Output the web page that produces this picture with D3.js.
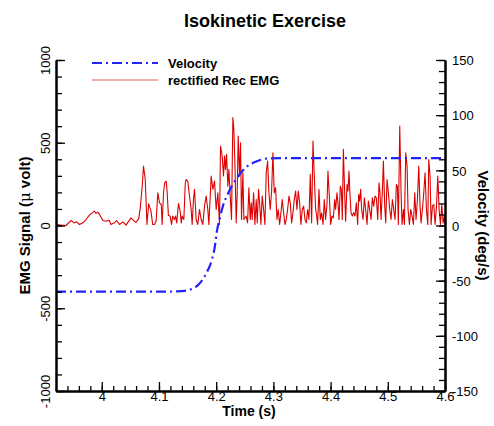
<!DOCTYPE html>
<html>
<head>
<meta charset="utf-8">
<script src="https://cdn.jsdelivr.net/npm/d3@7"></script>
<style>
  html, body { margin: 0; padding: 0; background: #fff; }
  svg { display: block; font-family: "Liberation Sans", Arial, sans-serif; }
</style>
</head>
<body>
<svg id="chart" width="494" height="426"></svg>
<script>
// Time axis (s)
const xTicks = [4, 4.1, 4.2, 4.3, 4.4, 4.5, 4.6];
const xMinorTicks = d3.range(3.92, 4.6001, 0.02).map(v => +v.toFixed(2));
// EMG axis (µV)
const emgTicks = [-1000, -500, 0, 500, 1000];
const emgMinorTicks = d3.range(-1000, 1001, 100);
// Velocity axis (deg/s)
const velTicks = [-150, -100, -50, 0, 50, 100, 150];
const velMinorTicks = d3.range(-150, 151, 10);

// Velocity profile of the isokinetic movement
const velTime  = [3.92, 4.10, 4.13, 4.145, 4.155, 4.165, 4.175, 4.185, 4.192, 4.198, 4.201, 4.206, 4.212, 4.2207, 4.235, 4.2527, 4.270, 4.2877, 4.31, 4.35, 4.6];
const velValue = [-60, -60, -59.7, -59.2, -58, -55.5, -50, -41, -32, -18, -6, 6, 18, 29, 42, 53, 58, 60.6, 61, 61, 61];

// Rectified rectus EMG
const emgTime = [
  3.9200, 3.9290, 3.9375, 3.9460, 3.9520, 3.9560, 3.9610, 3.9670, 3.9725, 3.9780,
  3.9870, 3.9900, 3.9930, 3.9960, 4.0020, 4.0075, 4.0130, 4.0160, 4.0220, 4.0260,
  4.0310, 4.0370, 4.0425, 4.0510, 4.0570, 4.0600, 4.0645, 4.0670, 4.0705, 4.0730,
  4.0760, 4.0790, 4.0820, 4.0860, 4.0890, 4.0920, 4.0950, 4.0980, 4.1010, 4.1040,
  4.1055, 4.1080, 4.1100, 4.1125, 4.1140, 4.1165, 4.1195, 4.1220, 4.1240, 4.1270,
  4.1290, 4.1310, 4.1340, 4.1370, 4.1390, 4.1405, 4.1435, 4.1460,
  4.1475, 4.1504, 4.1533, 4.1563, 4.1580, 4.1603, 4.1621, 4.1650, 4.1679, 4.1708,
  4.1738, 4.1767, 4.1796, 4.1825, 4.1854, 4.1872, 4.1913, 4.1942, 4.1971, 4.2000,
  4.2029, 4.2058, 4.2076, 4.2105, 4.2128, 4.2146, 4.2163, 4.2181, 4.2204, 4.2222,
  4.2245, 4.2268, 4.2292, 4.2309, 4.2327, 4.2350, 4.2368, 4.2385, 4.2408, 4.2426,
  4.2443, 4.2467, 4.2484, 4.2525, 4.2549, 4.2572, 4.2595, 4.2613, 4.2630, 4.2654,
  4.2677, 4.2700, 4.2718, 4.2741, 4.2759, 4.2782, 4.2805, 4.2829, 4.2852, 4.2875,
  4.2899, 4.2922, 4.2945, 4.2969, 4.2992, 4.3015, 4.3039, 4.3062, 4.3085, 4.3109,
  4.3132, 4.3155, 4.3179, 4.3202, 4.3225, 4.3249, 4.3272, 4.3295, 4.3319, 4.3342,
  4.3365, 4.3389, 4.3412, 4.3435, 4.3459, 4.3482, 4.3505, 4.3529, 4.3552, 4.3575,
  4.3599, 4.3622, 4.3645, 4.3669, 4.3692, 4.3715, 4.3739,
  4.3750, 4.3773, 4.3797, 4.3820, 4.3843, 4.3867, 4.3890, 4.3913, 4.3937, 4.3954,
  4.3978, 4.4001, 4.4024, 4.4048, 4.4071, 4.4088, 4.4112, 4.4129, 4.4147, 4.4170,
  4.4188, 4.4205, 4.4223, 4.4246, 4.4263, 4.4287, 4.4304, 4.4322, 4.4339, 4.4357,
  4.4380, 4.4403, 4.4427, 4.4450, 4.4473, 4.4491, 4.4508, 4.4526, 4.4543, 4.4567,
  4.4590, 4.4613, 4.4637, 4.4660, 4.4683, 4.4707, 4.4730, 4.4753, 4.4777, 4.4800,
  4.4824, 4.4847, 4.4864, 4.4882, 4.4905, 4.4923, 4.4946, 4.4964, 4.4987, 4.5010,
  4.5034, 4.5057, 4.5080, 4.5104, 4.5127, 4.5150, 4.5168, 4.5185, 4.5209, 4.5232,
  4.5249, 4.5273, 4.5290, 4.5314, 4.5337, 4.5354, 4.5378, 4.5401, 4.5424, 4.5448,
  4.5471, 4.5494, 4.5518, 4.5541, 4.5564, 4.5582, 4.5605, 4.5629, 4.5652, 4.5675,
  4.5699, 4.5716, 4.5739, 4.5757, 4.5780, 4.5804, 4.5827, 4.5850, 4.5874, 4.5897,
  4.5920, 4.5944, 4.5967, 4.5990, 4.6000
];
const emgValue = [
  6, 2, 0, 30, 16, 22, 6, 16, 36, 61,
  87, 73, 81, 67, 30, 26, 32, 6, 16, 30,
  6, 22, 2, 46, 26, 20, 40, 97, 228, 359,
  278, 6, 131, 87, 6, 6, 26, 198, 137, 127,
  6, 198, 258, 268, 218, 61, 57, 6, 57, 36,
  57, 16, 133, 87, 16, 57, 36, 258,
  278, 268, 178, 97, 6, 157, 218, 36, 6, 97,
  36, 6, 117, 178, 97, 6, 299, 218, 268, 97,
  198, 6, 480, 420, 299, 420, 339, 430, 238, 339,
  178, 36, 652, 581, 379, 16, 198, 541, 299, 500,
  36, 319, 36, 57, 16, 228, 36, 137, 36, 198,
  6, 157, 16, 218, 137, 6, 178, 97, 6, 319,
  389, 198, 97, 208, 440, 198, 228, 36, 97, 6,
  77, 157, 77, 6, 36, 97, 178, 137, 16, 77,
  157, 208, 97, 208, 137, 6, 97, 117, 36, 16,
  97, 36, 309, 16, 510, 299, 97,
  77, 6, 218, 36, 77, 6, 157, 36, 127, 329,
  178, 6, 57, 46, 157, 97, 198, 137, 36, 238,
  218, 36, 460, 198, 26, 248, 208, 329, 188, 77,
  57, 77, 57, 137, 6, 188, 147, 218, 97, 36,
  167, 97, 6, 147, 97, 36, 167, 117, 178, 167,
  36, 258, 198, 36, 208, 389, 117, 16, 278, 198,
  97, 36, 157, 97, 36, 248, 238, 6, 601, 198,
  6, 97, 6, 440, 359, 97, 6, 97, 57, 6,
  198, 36, 157, 359, 117, 16, 97, 198, 319, 97,
  6, 399, 299, 6, 117, 127, 6, 107, 299, 97,
  6, 127, 16, 57, 6
];

const svg = d3.select("#chart");
const plotLeft = 56, plotRight = 445, plotTop = 60, plotBottom = 391;

const x = d3.scaleLinear().domain([3.92, 4.6]).range([plotLeft, plotRight]);
const yEmg = d3.scaleLinear().domain([-1000, 1000]).range([plotBottom, plotTop]);
const yVel = d3.scaleLinear().domain([-150, 150]).range([plotBottom, plotTop]);

// plain hyphen-minus for negative tick labels
const intLabel = d => String(d);

// Plot area clip
svg.append("clipPath").attr("id", "plotClip")
  .append("rect").attr("x", plotLeft).attr("y", plotTop - 2)
  .attr("width", plotRight - plotLeft).attr("height", plotBottom - plotTop + 2);

// EMG trace
const emgLine = d3.line()
  .x((d, i) => x(emgTime[i]))
  .y(d => yEmg(d));
svg.append("path")
  .attr("clip-path", "url(#plotClip)")
  .attr("d", emgLine(emgValue))
  .attr("fill", "none")
  .attr("stroke", "#dd0000")
  .attr("stroke-width", 1.1)
  .attr("stroke-linejoin", "round");

// Velocity trace (dash-dot)
const velLine = d3.line()
  .x((d, i) => x(velTime[i]))
  .y(d => yVel(d))
  .curve(d3.curveMonotoneX);
svg.append("path")
  .attr("clip-path", "url(#plotClip)")
  .attr("d", velLine(velValue))
  .attr("fill", "none")
  .attr("stroke", "#2222ff")
  .attr("stroke-width", 2.2)
  .attr("stroke-dasharray", "10,4,2,4");

// Axes: ticks point into the plot
function styleAxis(g) {
  g.select(".domain").attr("stroke", "#000").attr("stroke-width", 2);
  g.selectAll(".tick line").attr("stroke", "#000").attr("stroke-width", 1.3);
  g.selectAll("text").attr("fill", "#000").style("font-size", "13px")
    .style("font-family", "'Liberation Sans', Arial, sans-serif");
}

// bottom
svg.append("g").attr("transform", `translate(0,${plotBottom})`)
  .call(d3.axisBottom(x).tickValues(xMinorTicks).tickSize(-5).tickFormat("").tickSizeOuter(0))
  .call(styleAxis);
svg.append("g").attr("transform", `translate(0,${plotBottom})`)
  .call(d3.axisBottom(x).tickValues(xTicks).tickSize(-9).tickFormat(d3.format(".1~f")).tickSizeOuter(0))
  .call(styleAxis)
  .call(g => g.selectAll("text").attr("dy", null).attr("y", 9.5));

// left
svg.append("g").attr("transform", `translate(${plotLeft},0)`)
  .call(d3.axisLeft(yEmg).tickValues(emgMinorTicks).tickSize(-6).tickFormat("").tickSizeOuter(0))
  .call(styleAxis);
svg.append("g").attr("transform", `translate(${plotLeft},0)`)
  .call(d3.axisLeft(yEmg).tickValues(emgTicks).tickSize(-9).tickFormat(intLabel).tickSizeOuter(0))
  .call(styleAxis)
  .call(g => g.selectAll("text")
    .attr("x", null).attr("dy", null)
    .attr("text-anchor", "middle")
    .attr("transform", "translate(-6,0) rotate(-90)"));

// right
svg.append("g").attr("transform", `translate(${plotRight},0)`)
  .call(d3.axisRight(yVel).tickValues(velMinorTicks).tickSize(-6).tickFormat("").tickSizeOuter(0))
  .call(styleAxis);
svg.append("g").attr("transform", `translate(${plotRight},0)`)
  .call(d3.axisRight(yVel).tickValues(velTicks).tickSize(-9).tickFormat(intLabel).tickSizeOuter(0))
  .call(styleAxis)
  .call(g => g.selectAll("text").attr("x", 7).attr("text-anchor", "start").attr("dy", "0.36em"));

// Title
svg.append("text")
  .attr("x", 265).attr("y", 27)
  .attr("text-anchor", "middle")
  .style("font-size", "18px").style("font-weight", "bold")
  .text("Isokinetic Exercise");

// Axis titles
svg.append("text")
  .attr("x", 249).attr("y", 416)
  .attr("text-anchor", "middle")
  .style("font-size", "14px").style("font-weight", "bold")
  .text("Time (s)");

const yl = svg.append("text")
  .attr("transform", `translate(30,${(plotTop + plotBottom) / 2}) rotate(-90)`)
  .attr("text-anchor", "middle")
  .style("font-size", "15px").style("font-weight", "bold");
yl.append("tspan").text("EMG Signal (");
yl.append("tspan").style("font-weight", "normal").style("font-family", "'DejaVu Serif', serif").text("μ");
yl.append("tspan").text(" volt)");

svg.append("text")
  .attr("transform", `translate(478,${(plotTop + plotBottom) / 2}) rotate(90)`)
  .attr("text-anchor", "middle")
  .style("font-size", "15px").style("font-weight", "bold")
  .text("Velocity (deg/s)");

// Legend
const legend = [
  { label: "Velocity", color: "#2222ff", width: 2.2, dash: "10,4,2,4", y: 63 },
  { label: "rectified Rec EMG", color: "#e06060", width: 1.2, dash: null, y: 80 }
];
legend.forEach(d => {
  svg.append("line")
    .attr("x1", 92).attr("x2", 158).attr("y1", d.y).attr("y2", d.y)
    .attr("stroke", d.color).attr("stroke-width", d.width)
    .attr("stroke-dasharray", d.dash);
  svg.append("text")
    .attr("x", 168).attr("y", d.y + 5)
    .style("font-size", "13px").style("font-weight", "bold")
    .text(d.label);
});
</script>
</body>
</html>
